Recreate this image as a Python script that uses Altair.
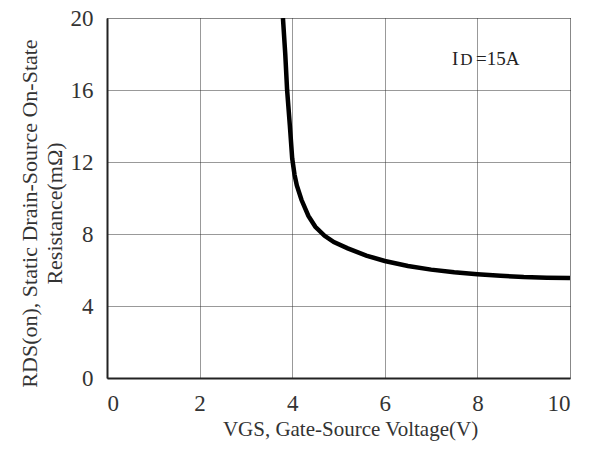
import altair as alt
import pandas as pd

# Curve: VGS (V) vs RDS(on) (mΩ)
vgs = [3.80, 3.85, 3.89, 3.95, 4.00, 4.05, 4.10, 4.20, 4.35, 4.50, 4.70, 4.90,
       5.20, 5.60, 6.00, 6.50, 7.00, 7.50, 8.00, 8.50, 9.00, 9.50, 10.00]
rds = [20.0, 18.0, 16.0, 14.0, 12.2, 11.3, 10.7, 9.9, 9.0, 8.4, 7.9, 7.55,
       7.2, 6.8, 6.5, 6.22, 6.02, 5.88, 5.77, 5.68, 5.61, 5.57, 5.55]

x_ticks = [0, 2, 4, 6, 8, 10]
y_ticks = [0, 4, 8, 12, 16, 20]

ann_text = ["I", "D", "=15A"]
ann_x = [7.45, 7.63, 7.97]
ann_y = [17.39, 17.39, 17.39]
ann_size = [19, 17, 19]

FONT = "Liberation Serif"

curve = pd.DataFrame({"vgs": vgs, "rds": rds})
ann = pd.DataFrame({"t": ann_text, "x": ann_x, "y": ann_y, "s": ann_size})

xscale = alt.Scale(domain=[0, 10], nice=False)
yscale = alt.Scale(domain=[0, 20], nice=False)

common = dict(grid=True, ticks=False, labelFont=FONT, labelColor="#333",
              labelFontSize=23, titleFont=FONT, titleFontWeight="normal",
              titleColor="#333", domainColor="#222", domainWidth=2,
              gridColor="#333", gridDash=[1, 1], gridWidth=1, gridOpacity=1)

line = alt.Chart(curve).mark_line(color="black", strokeWidth=4.5, clip=True).encode(
    x=alt.X("vgs:Q", scale=xscale,
            axis=alt.Axis(values=x_ticks, title="VGS, Gate-Source Voltage(V)",
                          labelPadding=14, titleFontSize=21,
                          titleX=243, titleY=57, titleBaseline="alphabetic",
                          **common)),
    y=alt.Y("rds:Q", scale=yscale,
            axis=alt.Axis(values=y_ticks,
                          title=["RDS(on), Static Drain-Source On-State", "Resistance(mΩ)"],
                          labelPadding=14, titleFontSize=22,
                          titleX=-71, titleY=195, titleBaseline="alphabetic",
                          titleLineHeight=25, **common)),
    order=alt.Order("vgs:Q"),
)

text = alt.Chart(ann).mark_text(font=FONT, align="left", baseline="alphabetic",
                                color="#222").encode(
    x=alt.X("x:Q", scale=xscale),
    y=alt.Y("y:Q", scale=yscale),
    text="t:N",
    size=alt.Size("s:Q", scale=None, legend=None),
)

chart = (line + text).properties(
    width=463, height=360,
    autosize=alt.AutoSizeParams(type="none"),
    padding={"left": 107, "top": 18, "right": 23, "bottom": 79},
).configure_view(
    stroke="#666", strokeWidth=2
).configure(background="white")

chart.save("out.html", embed_options={"renderer": "svg", "actions": False})
